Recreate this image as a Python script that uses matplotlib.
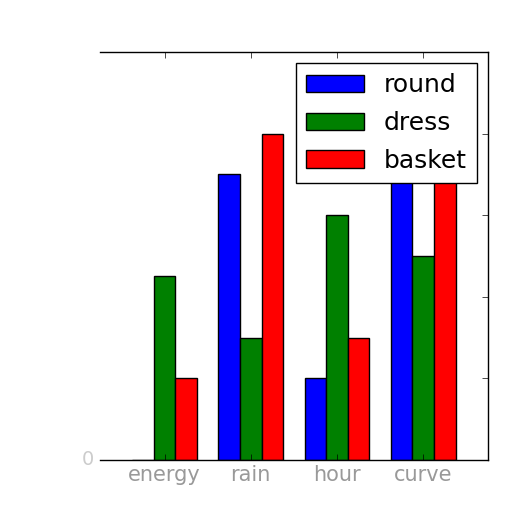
import numpy as np
import matplotlib
matplotlib.use("Agg")
from matplotlib import pyplot as plt

plt.style.use("classic")

categories = ["energy", "rain", "hour", "curve"]
round_vals = [0, 3.5, 1, 4.5]
dress_vals = [2.25, 1.5, 3, 2.5]
basket_vals = [1, 4, 1.5, 4.5]

fig = plt.figure(figsize=(5.12, 5.12), dpi=100)
ax = fig.add_axes([0.195, 0.102, 0.758, 0.796])

x = np.arange(len(categories))
w = 0.25
ax.bar(x - w, round_vals, w, color="b", label="round")
ax.bar(x, dress_vals, w, color="g", label="dress")
ax.bar(x + w, basket_vals, w, color="r", label="basket")

ax.set_xticks(x)
ax.set_xticklabels(categories, fontsize=15, color="#999999")
ax.set_xlim(-0.75, 3.75)
ax.set_ylim(0, 5)
ax.set_yticks([0, 1, 2, 3, 4, 5])
ax.set_yticklabels(["0", "", "", "", "", ""], fontsize=14, color="#cccccc")
ax.spines["left"].set_visible(False)
ax.tick_params(axis="y", left=False)

ax.legend(loc="upper right", fontsize=18, labelspacing=0.55,
          handlelength=2.3, borderaxespad=0.45)

fig.savefig("out.png")
